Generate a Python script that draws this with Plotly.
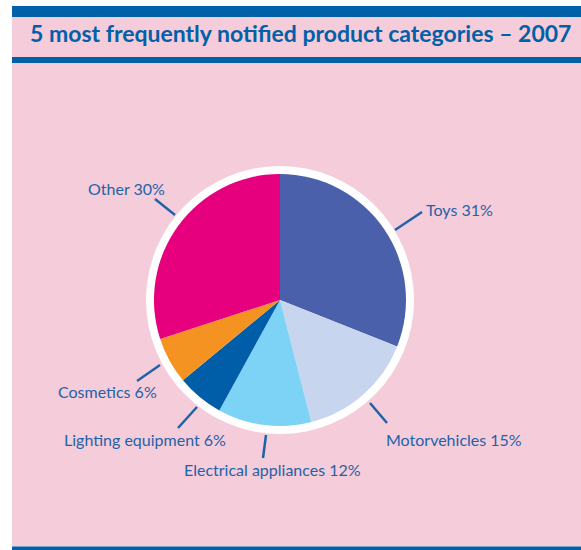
import plotly.graph_objects as go

# ---- data ----
categories = ["Toys", "Motorvehicles", "Electrical appliances",
              "Lighting equipment", "Cosmetics", "Other"]
shares = [31, 15, 12, 6, 6, 30]
slice_colors = ["#4B60AA", "#C8D5EE", "#7DD3F5", "#005EA8", "#F49322", "#E6007E"]
title_text = "5 most frequently notified product categories \u2013 2007"

W, H = 581, 550
def px(x):
    return x / W
def py(y):
    return 1 - y / H

BLUE = "#0060A8"
PINK = "#F5CCDA"
TXT = "#1F62A8"

cx, cy, r, ring = 280, 300, 126, 134

fig = go.Figure()
fig.add_trace(go.Pie(
    values=shares, labels=categories, sort=False, direction="clockwise",
    rotation=0, textinfo="none", marker=dict(colors=slice_colors, line=dict(width=0)),
    domain=dict(x=[px(cx - r), px(cx + r)], y=[py(cy + r), py(cy - r)]),
    showlegend=False, hovertemplate="%{label}: %{value}%<extra></extra>"))

shapes = [
    dict(type="rect", xref="paper", yref="paper", x0=px(12), x1=1, y0=py(546.5), y1=py(17),
         fillcolor=PINK, line=dict(width=0), layer="below"),
    dict(type="rect", xref="paper", yref="paper", x0=px(12), x1=1, y0=py(17), y1=py(6),
         fillcolor=BLUE, line=dict(width=0), layer="below"),
    dict(type="rect", xref="paper", yref="paper", x0=px(12), x1=1, y0=py(63), y1=py(57),
         fillcolor=BLUE, line=dict(width=0), layer="below"),
    dict(type="rect", xref="paper", yref="paper", x0=px(12), x1=1, y0=0, y1=py(546.5),
         fillcolor=BLUE, line=dict(width=0), layer="below"),
    dict(type="circle", xref="paper", yref="paper", x0=px(cx - ring), x1=px(cx + ring),
         y0=py(cy + ring), y1=py(cy - ring), fillcolor="white", line=dict(width=0), layer="below"),
]

# label positions (pixel centres) and leader lines
label_pos = [(460, 209), (454, 439), (272, 469), (145, 439), (107, 391), (126, 188)]
leaders = [((422, 212), (395, 230)), ((387, 423), (370, 403)), ((263, 458), (266, 435)),
           ((178, 428), (197, 407)), ((137, 381), (160, 365)), ((155, 199), (175, 215))]
for (a, b) in leaders:
    shapes.append(dict(type="line", xref="paper", yref="paper", x0=px(a[0]), y0=py(a[1]),
                       x1=px(b[0]), y1=py(b[1]), line=dict(color=TXT, width=2.5)))

annotations = [dict(text=title_text, xref="paper", yref="paper", x=px(28), y=py(33),
                    xanchor="left", yanchor="middle", showarrow=False,
                    font=dict(family="Lato", size=23, color=BLUE, weight="bold"))]
for cat, v, (lx, ly) in zip(categories, shares, label_pos):
    annotations.append(dict(text=f"{cat} {v}%", xref="paper", yref="paper", x=px(lx), y=py(ly),
                            xanchor="center", yanchor="middle", showarrow=False,
                            font=dict(family="Lato", size=16, color=TXT)))

fig.update_layout(width=W, height=H, margin=dict(l=0, r=0, t=0, b=0),
                  paper_bgcolor="white", plot_bgcolor="white",
                  shapes=shapes, annotations=annotations)
fig.write_html("out.html", config={"displayModeBar": False},
               post_script="document.body.style.margin='0';document.body.style.overflow='hidden';")
